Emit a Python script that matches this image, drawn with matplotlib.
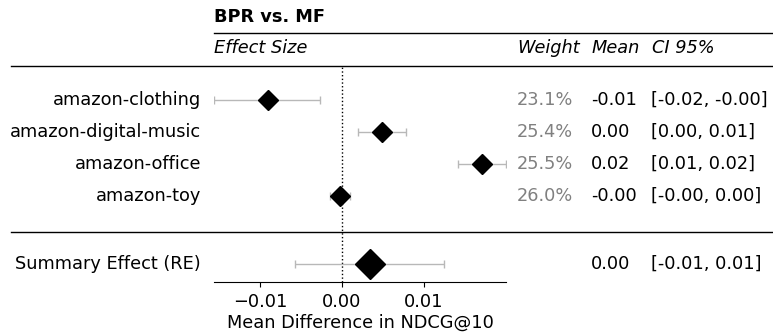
import matplotlib
matplotlib.use("Agg")
import matplotlib.pyplot as plt
import matplotlib.transforms as mtransforms
from matplotlib.lines import Line2D

# Data
studies = ["amazon-clothing", "amazon-digital-music", "amazon-office", "amazon-toy"]
means = [-0.0090, 0.0049, 0.0171, -0.0002]
ci_low = [-0.0156, 0.0020, 0.0142, -0.0015]
ci_high = [-0.0027, 0.0078, 0.0200, 0.0010]
weights = ["23.1%", "25.4%", "25.5%", "26.0%"]
mean_labels = ["-0.01", "0.00", "0.02", "-0.00"]
ci_labels = ["[-0.02, -0.00]", "[0.00, 0.01]", "[0.01, 0.02]", "[-0.00, 0.00]"]

summary_label = "Summary Effect (RE)"
summary_mean = 0.0034
summary_low = -0.0057
summary_high = 0.0124
summary_mean_label = "0.00"
summary_ci_label = "[-0.01, 0.01]"

W, H = 773, 336
FS = 12.8
fig = plt.figure(figsize=(W / 100, H / 100), dpi=100)

def fx(px):
    return px / W

def fy(py):
    return 1 - py / H

# forest axes: x 214..506 px, y 66..282 px
ax = fig.add_axes([fx(214), fy(282), fx(506) - fx(214), fy(66) - fy(282)])
ax.set_xlim(-0.0156, 0.0200)
ax.set_ylim(5.6875, -1.0625)

ys = list(range(len(studies)))
sum_y = 5.125

for y, m, lo, hi in zip(ys, means, ci_low, ci_high):
    ax.errorbar(m, y, xerr=[[m - lo], [hi - m]], fmt="none", ecolor="#b8b8b8",
                elinewidth=1, capsize=3, capthick=1, zorder=1)
    ax.plot(m, y, marker="D", color="black", markersize=10, zorder=2)

ax.errorbar(summary_mean, sum_y, xerr=[[summary_mean - summary_low], [summary_high - summary_mean]],
            fmt="none", ecolor="#b8b8b8", elinewidth=1, capsize=3, capthick=1, zorder=1)
ax.plot(summary_mean, sum_y, marker="D", color="black", markersize=15.5, zorder=2)

ax.axvline(0, color="black", linestyle=":", linewidth=1, zorder=0)

for s in ["top", "right", "left"]:
    ax.spines[s].set_visible(False)
ax.set_yticks([])
ax.set_xticks([-0.01, 0.0, 0.01])
ax.set_xticklabels(["\u22120.01", "0.00", "0.01"])
ax.tick_params(axis="x", labelsize=FS, length=3.5, pad=4.5)
ax.set_xlabel("Mean Difference in NDCG@10", fontsize=FS, labelpad=2)

# text columns
bt = mtransforms.blended_transform_factory(fig.transFigure, ax.transData)
for y, name, w, ml, cl in zip(ys, studies, weights, mean_labels, ci_labels):
    ax.text(fx(201), y, name, transform=bt, ha="right", va="center", fontsize=FS)
    ax.text(fx(573), y, w, transform=bt, ha="right", va="center", fontsize=FS, color="#808080")
    ax.text(fx(591), y, ml, transform=bt, ha="left", va="center", fontsize=FS)
    ax.text(fx(651), y, cl, transform=bt, ha="left", va="center", fontsize=FS)

ax.text(fx(201), sum_y, summary_label, transform=bt, ha="right", va="center", fontsize=FS)
ax.text(fx(591), sum_y, summary_mean_label, transform=bt, ha="left", va="center", fontsize=FS)
ax.text(fx(651), sum_y, summary_ci_label, transform=bt, ha="left", va="center", fontsize=FS)

# header
fig.text(fx(214), fy(17), "BPR vs. MF", fontsize=FS, fontweight="bold", ha="left", va="center")
fig.text(fx(214), fy(48), "Effect Size", fontsize=FS, style="italic", ha="left", va="center")
fig.text(fx(517), fy(48), "Weight", fontsize=FS, style="italic", ha="left", va="center")
fig.text(fx(592), fy(48), "Mean", fontsize=FS, style="italic", ha="left", va="center")
fig.text(fx(652), fy(48), "CI 95%", fontsize=FS, style="italic", ha="left", va="center")

# horizontal rules
fig.add_artist(Line2D([fx(214), fx(773)], [fy(33), fy(33)], color="black", linewidth=1))
fig.add_artist(Line2D([fx(11), fx(773)], [fy(66), fy(66)], color="black", linewidth=1))
fig.add_artist(Line2D([fx(11), fx(773)], [fy(232), fy(232)], color="black", linewidth=1))

fig.savefig("out.png", dpi=100)
